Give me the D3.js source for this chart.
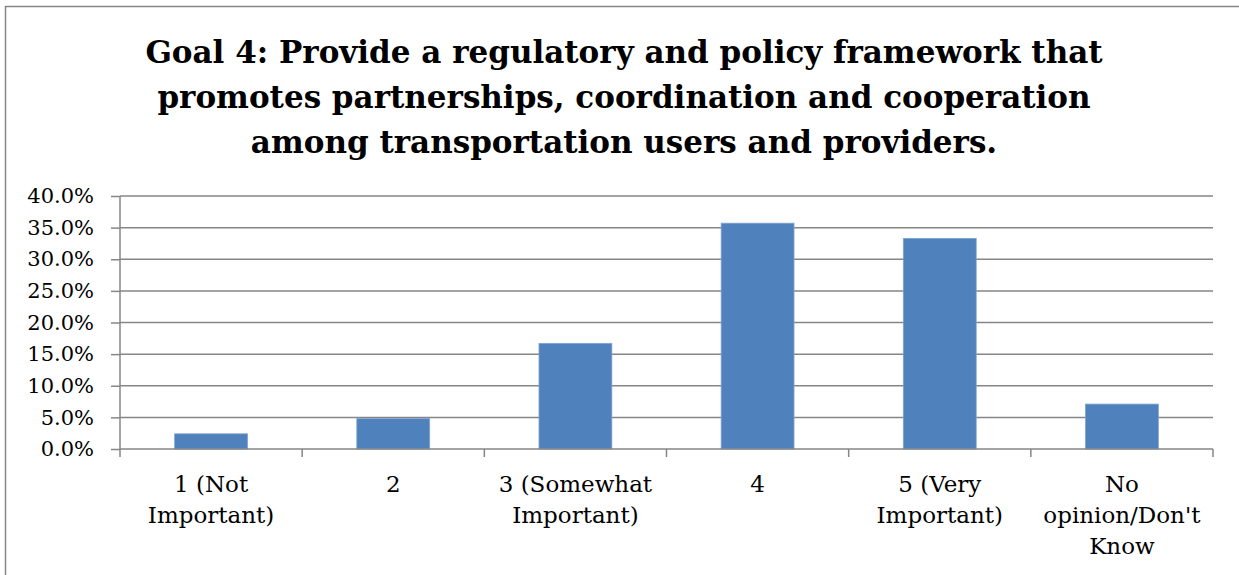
<!DOCTYPE html>
<html>
<head>
<meta charset="utf-8">
<script src="https://cdn.jsdelivr.net/npm/d3@7"></script>
<style>
  body { margin: 0; background: #fff; }
  svg { display: block; font-family: "DejaVu Serif", "Liberation Serif", serif; }
</style>
</head>
<body>
<svg id="chart"></svg>
<script>
// chart data
const categories = ["1 (Not Important)", "2", "3 (Somewhat Important)", "4", "5 (Very Important)", "No opinion/Don't Know"];
const categoryLines = [["1 (Not", "Important)"], ["2"], ["3 (Somewhat", "Important)"], ["4"], ["5 (Very", "Important)"], ["No", "opinion/Don't", "Know"]];
const values = [2.4, 4.8, 16.7, 35.7, 33.3, 7.1];
const yTicks = [0, 5, 10, 15, 20, 25, 30, 35, 40];
const titleLines = [
    "Goal 4: Provide a regulatory and policy framework that",
    "promotes partnerships, coordination and cooperation",
    "among transportation users and providers."
];

const width = 1239;
const height = 575;
const plotLeft = 120;
const plotRight = 1213;
const plotTop = 196;
const plotBottom = 449;

let svg = d3.select("#chart")
    .attr("width", width)
    .attr("height", height);

// outer chart frame
svg.append("rect")
    .attr("x", 5.5)
    .attr("y", 6.5)
    .attr("width", 1260)
    .attr("height", 600)
    .attr("fill", "none")
    .attr("stroke", "#868686")
    .attr("stroke-width", 1.5);

// title
svg.append("g")
    .selectAll("text")
    .data(titleLines)
    .enter()
    .append("text")
    .attr("x", 624)
    .attr("y", (d, i) => 63 + i * 45)
    .attr("text-anchor", "middle")
    .style("font-size", "31px")
    .style("font-weight", "bold")
    .style("fill", "#000")
    .text(d => d);

let scaleX = d3.scaleBand()
    .domain(categories)
    .range([plotLeft, plotRight])
    .paddingInner(0.6)
    .paddingOuter(0.3);

let scaleY = d3.scaleLinear()
    .domain([0, 40])
    .range([plotBottom, plotTop]);

// gridlines
svg.append("g")
    .selectAll("line")
    .data(yTicks.slice(1))
    .enter()
    .append("line")
    .attr("x1", plotLeft)
    .attr("x2", plotRight)
    .attr("y1", d => scaleY(d))
    .attr("y2", d => scaleY(d))
    .attr("stroke", "#868686")
    .attr("stroke-width", 1.5);

// y axis
let axisY = d3.axisLeft(scaleY)
    .tickValues(yTicks)
    .tickSize(9)
    .tickPadding(17)
    .tickFormat(d => d.toFixed(1) + "%");

let gy = svg.append("g")
    .attr("transform", `translate(${plotLeft}, 0)`)
    .call(axisY);
gy.selectAll("path, line").attr("stroke", "#868686").attr("stroke-width", 1.5);
gy.select(".domain").attr("d", `M0,${plotTop}V${plotBottom}`);
gy.selectAll("text")
    .style("font-family", "'DejaVu Serif', serif")
    .style("font-size", "21px")
    .style("fill", "#000");

// bars
svg.append("g")
    .selectAll("rect")
    .data(values)
    .enter()
    .append("rect")
    .attr("x", (d, i) => scaleX(categories[i]))
    .attr("y", d => scaleY(d))
    .attr("width", scaleX.bandwidth())
    .attr("height", d => plotBottom - scaleY(d))
    .attr("fill", "#4F81BD")
    .attr("stroke", "#7FA3D0")
    .attr("stroke-width", 0.8);

// x axis with ticks between categories
let axisX = d3.axisBottom(scaleX).tickSize(0).tickFormat("");
let gx = svg.append("g")
    .attr("transform", `translate(0, ${plotBottom})`)
    .call(axisX);
gx.select(".domain")
    .attr("d", `M${plotLeft},0H${plotRight}`)
    .attr("stroke", "#868686")
    .attr("stroke-width", 1.5);

gx.append("g")
    .selectAll("line")
    .data(d3.range(categories.length + 1))
    .enter()
    .append("line")
    .attr("x1", i => plotLeft + i * (plotRight - plotLeft) / categories.length)
    .attr("x2", i => plotLeft + i * (plotRight - plotLeft) / categories.length)
    .attr("y1", 0)
    .attr("y2", 8)
    .attr("stroke", "#868686")
    .attr("stroke-width", 1.5);

// category labels
categories.forEach((c, i) => {
    let cx = scaleX(c) + scaleX.bandwidth() / 2;
    svg.append("text")
        .attr("text-anchor", "middle")
        .style("font-size", "23px")
        .style("fill", "#000")
        .selectAll("tspan")
        .data(categoryLines[i])
        .enter()
        .append("tspan")
        .attr("x", cx)
        .attr("y", (d, j) => 492 + j * 31)
        .text(d => d);
});
</script>
</body>
</html>
